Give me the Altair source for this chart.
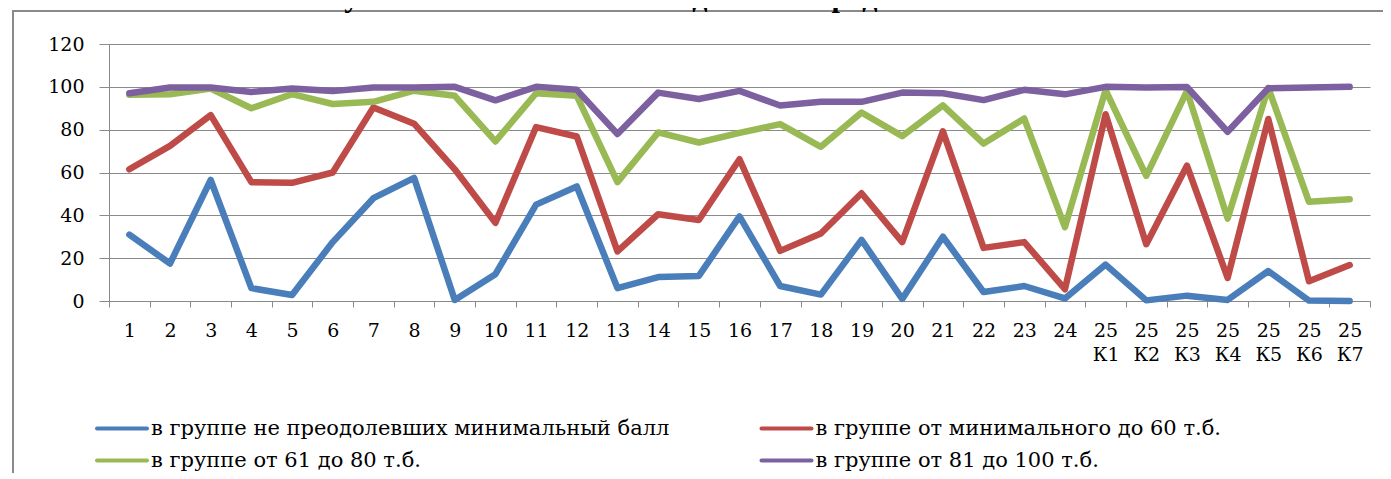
import altair as alt
import pandas as pd

categories = [str(i) for i in range(1, 25)] + [f"25 К{i}" for i in range(1, 8)]

series_names = [
    "в группе не преодолевших минимальный балл",
    "в группе от минимального до 60 т.б.",
    "в группе от 61 до 80 т.б.",
    "в группе от 81 до 100 т.б.",
]
series_colors = ["#4A7EBB", "#BE4B48", "#98B954", "#7D60A0"]

blue = [31, 17.5, 56.5, 6, 2.8, 27.5, 48, 57.5, 0.5, 12.5, 45, 53.5, 6, 11.2, 11.7, 39.5,
        7, 3, 28.5, 1, 30, 4.2, 7, 1.2, 17, 0.3, 2.5, 0.5, 14, 0.2, 0]
red = [61.5, 72.4, 86.8, 55.5, 55.2, 60, 90.4, 82.8, 61.5, 36.5, 81.2, 76.8, 23.2, 40.5, 37.8, 66.2,
       23.4, 31.5, 50.3, 27.5, 79.2, 24.8, 27.5, 5.5, 87.2, 26.5, 63.2, 10.8, 85, 9.2, 16.8]
green = [96.3, 96.5, 99.2, 90, 96.6, 92, 93, 98.2, 95.8, 74.5, 97, 95.8, 55.5, 78.7, 74, 78.5,
         82.6, 72, 88, 77, 91.3, 73.5, 85.2, 34.5, 98.5, 58.4, 98, 38.5, 99.5, 46.3, 47.5]
purple = [97, 99.7, 99.7, 97.6, 99.2, 98, 99.7, 99.7, 100, 93.7, 100, 98.6, 78, 97.3, 94.3, 98.1,
          91.3, 93, 93, 97.3, 97, 93.8, 98.6, 96.5, 100, 99.7, 99.9, 79, 99.3, 99.7, 100]

y_ticks = [0, 20, 40, 60, 80, 100, 120]

title_text = "участниками ЕГЭ 2020 года в Белгородской области"

all_series = [blue, red, green, purple]

GRAY = "#8a8a8a"
FONT = "DejaVu Serif"

x_enc = alt.X(
    "cat:N",
    sort=categories,
    scale=alt.Scale(domain=categories, paddingInner=0, paddingOuter=0),
    axis=alt.Axis(
        title=None, labelAngle=0, tickBand="extent", tickSize=6, tickColor=GRAY,
        domainColor=GRAY, labelFont=FONT, labelFontSize=19, labelColor="#000000",
        labelPadding=14, labelLineHeight=24, labelBaseline="top",
        labelExpr="isValid(datum.value) ? split(datum.value, ' ') : ''", grid=False,
    ),
)
y_enc = alt.Y(
    "v:Q",
    scale=alt.Scale(domain=[0, 120], nice=False),
    axis=alt.Axis(
        title=None, values=y_ticks, grid=True, gridColor=GRAY, tickSize=10, tickColor=GRAY,
        domainColor=GRAY, labelFont=FONT, labelFontSize=19, labelColor="#000000",
        labelPadding=15,
    ),
)

layers = []
for i, (name, vals) in enumerate(zip(series_names, all_series)):
    df = pd.DataFrame({"cat": categories, "v": vals, "s": name})
    enc = dict(x=x_enc, y=y_enc) if i == 0 else dict(
        x=alt.X("cat:N", sort=categories), y=alt.Y("v:Q"))
    layers.append(
        alt.Chart(df).mark_line(
            color=series_colors[i], strokeWidth=6.5, strokeJoin="round", strokeCap="round"
        ).encode(**enc)
    )

one = pd.DataFrame({"d": [0]})

# frame of the chart area (left and top borders)
layers.append(alt.Chart(one).mark_rule(color=GRAY, strokeWidth=2).encode(
    x=alt.value(-96), y=alt.value(-33), y2=alt.value(430)))
layers.append(alt.Chart(one).mark_rule(color=GRAY, strokeWidth=2).encode(
    x=alt.value(-97), x2=alt.value(1290), y=alt.value(-33)))

# title (cut at top as in the reference)
layers.append(alt.Chart(one).mark_text(
    text=title_text, font="Liberation Serif", fontWeight="bold", fontSize=30,
    baseline="alphabetic", align="center", color="#000000").encode(
    x=alt.value(590), y=alt.value(-37.5)))

# legend
leg_pos = [(-12, 384.5), (652.5, 384.5), (-12, 416.5), (652.5, 416.5)]
for (lx, ly), name, col in zip(leg_pos, series_names, series_colors):
    layers.append(alt.Chart(one).mark_rule(color=col, strokeWidth=4, strokeCap="round").encode(
        x=alt.value(lx), x2=alt.value(lx + 50), y=alt.value(ly)))
    layers.append(alt.Chart(one).mark_text(
        text=name, font=FONT, fontSize=21, align="left", baseline="middle",
        color="#000000").encode(x=alt.value(lx + 54), y=alt.value(ly)))

chart = alt.layer(*layers).properties(
    width=1261, height=257,
    autosize=alt.AutoSizeParams(type="none"),
    padding={"left": 101, "top": 36, "right": 13, "bottom": 172},
).configure_view(stroke=None)

chart.save("out.html", embed_options={"renderer": "svg", "actions": False})
